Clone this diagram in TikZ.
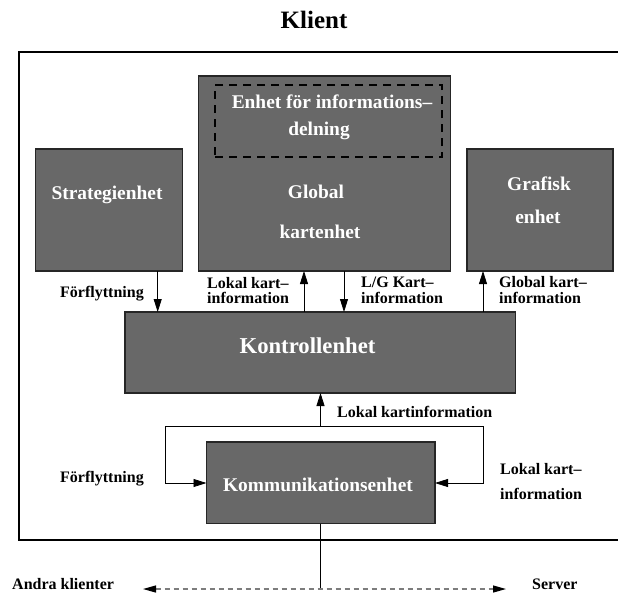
\documentclass[tikz,border=0pt]{standalone}
\usepackage{fontspec}
\setmainfont{Liberation Serif}
\usetikzlibrary{arrows.meta}
\definecolor{boxgray}{RGB}{104,104,104}
\definecolor{dashgray}{RGB}{125,125,125}
\begin{document}
\begin{tikzpicture}[x=1pt,y=-1pt,
  box/.style={draw=black!85, line width=1.1pt, fill=boxgray, inner sep=0pt, outer sep=0pt},
  wtxt/.style={text=white, anchor=base, inner sep=0pt, font=\bfseries\fontsize{19.4}{20}\selectfont},
  lbl/.style={anchor=base west, inner sep=0pt, font=\bfseries\fontsize{16}{16}\selectfont},
  arr/.style={-{Triangle[length=13pt,width=8pt]}, line width=0.8pt},
  conn/.style={line width=0.8pt}]
\useasboundingbox (0,0) rectangle (618,592);

% title
\node[anchor=base, inner sep=0pt, font=\bfseries\fontsize{25}{26}\selectfont] (title) at (314,28) {Klient};

% outer frame
\node[draw, line width=1.5pt, inner sep=0pt, outer sep=0pt, minimum width=606pt, minimum height=488pt] (frame) at (322,296) {};

% boxes
\node[box, minimum width=147pt, minimum height=122pt] (strat) at (109,210) {};
\node[box, minimum width=252pt, minimum height=195pt] (glob) at (324.5,173.5) {};
\node[draw=black, dashed, dash pattern=on 8pt off 6pt, line width=1.5pt, inner sep=0pt, outer sep=0pt, minimum width=227pt, minimum height=72pt] (share) at (328.5,121) {};
\node[box, minimum width=146pt, minimum height=122pt] (graf) at (540,210) {};
\node[box, minimum width=390.5pt, minimum height=81pt] (ctrl) at (320.25,352.5) {};
\node[box, minimum width=228.5pt, minimum height=81.5pt] (komm) at (320.75,482.75) {};

% white texts
\node[wtxt] (tstrat) at (107,199) {Strategienhet};
\node[wtxt] (tshare1) at (332,108) {Enhet för informations–};
\node[wtxt] (tshare2) at (319,135) {delning};
\node[wtxt] (tglob1) at (316,198) {Global};
\node[wtxt] (tglob2) at (320,238) {kartenhet};
\node[wtxt] (tgraf1) at (539,190) {Grafisk};
\node[wtxt] (tgraf2) at (538,223) {enhet};
\node[wtxt, font=\bfseries\fontsize{22.7}{23}\selectfont] (tctrl) at (307.5,353) {Kontrollenhet};
\node[wtxt] (tkomm) at (318,491) {Kommunikationsenhet};

% coordinates for connectors
\coordinate (xf) at (157.7,0);
\coordinate (xl) at (304,0);
\coordinate (xg) at (344,0);
\coordinate (xr) at (483,0);
\coordinate (xc) at (320.5,0);
\coordinate (loopL) at (165.7,426);
\coordinate (loopR) at (483,426);
\coordinate (ya) at (0,483);
\coordinate (dL) at (143,589);
\coordinate (dR) at (506,589);
\coordinate (dM) at (320.5,589);

% connectors top
\draw[arr] (strat.south -| xf) -- (ctrl.north -| xf);
\draw[arr] (ctrl.north -| xl) -- (glob.south -| xl);
\draw[arr] (glob.south -| xg) -- (ctrl.north -| xg);
\draw[arr] (ctrl.north -| xr) -- (graf.south -| xr);

% loop
\draw[conn] (loopL) -- (loopR);
\draw[arr] (loopL -| xc) -- (ctrl.south -| xc);
\draw[arr] (loopL) |- (komm.west |- ya);
\draw[arr] (loopR) |- (komm.east |- ya);

% bottom
\draw[conn] (komm.south -| xc) -- (dM);
\draw[line width=1.2pt, dashgray, dash pattern=on 5pt off 4pt,
  {Triangle[length=13pt,width=7pt,black]}-{Triangle[length=13pt,width=7pt,black]}] (dL) -- (dR);

% labels
\node[lbl] (lf1) at (60,297) {Förflyttning};
\node[lbl] (ll1) at (207,288) {Lokal kart–};
\node[lbl] (ll2) at (207,303) {information};
\node[lbl] (lg1) at (361,287) {L/G Kart–};
\node[lbl] (lg2) at (361,303) {information};
\node[lbl] (lr1) at (499,287) {Global kart–};
\node[lbl] (lr2) at (499,303) {information};
\node[lbl] (lk) at (337,417) {Lokal kartinformation};
\node[lbl] (lf2) at (60,482) {Förflyttning};
\node[lbl] (lkr1) at (500,474) {Lokal kart–};
\node[lbl] (lkr2) at (500,499) {information};
\node[lbl] (landra) at (12,589) {Andra klienter};
\node[lbl] (lserver) at (532,589) {Server};
\end{tikzpicture}
\end{document}
